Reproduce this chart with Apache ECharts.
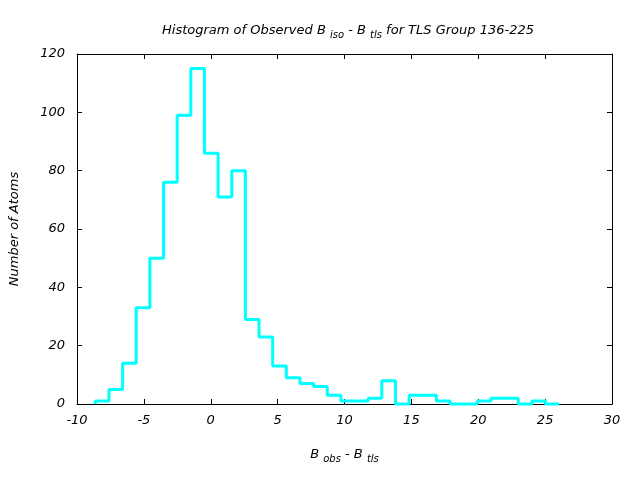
<!DOCTYPE html>
<html>
<head>
<meta charset="utf-8">
<script src="https://cdn.jsdelivr.net/npm/echarts@6/dist/echarts.min.js"></script>
<style>html,body{margin:0;padding:0;background:#fff}#c{width:640px;height:480px}</style>
</head>
<body>
<div id="c"></div>
<script>
// Histogram bin layout (value units) and counts
const binStart = -8.63;
const binWidth = 1.02;
const counts = [1,5,14,33,50,76,99,115,86,71,80,29,23,13,9,7,6,3,1,1,2,8,0,3,3,1,0,0,1,2,2,0,1,0];
const xTicks = [-10, 30, 5];   // min, max, interval
const yTicks = [0, 120, 20];

const pts = [[binStart, 0]];
counts.forEach((c, i) => pts.push([binStart + i * binWidth, c]));
pts.push([binStart + counts.length * binWidth, counts[counts.length - 1]]);

const font = 'DejaVu Sans';
const lab = {color: '#000', fontFamily: font, fontStyle: 'italic', fontSize: 13};
const subStyle = {fontSize: 10, fontFamily: font, fontStyle: 'italic', color: '#000', padding: [8, 0, 0, 0]};
const axLine = {show: true, onZero: false, lineStyle: {color: '#000', width: 1}};
const axTick = {show: true, inside: true, length: 5, lineStyle: {color: '#000'}};
const chart = echarts.init(document.getElementById('c'), null, {renderer: 'canvas'});
chart.setOption({
  animation: false,
  backgroundColor: '#fff',
  title: {
    text: 'Histogram of Observed B {s|iso} - B {s|tls} for TLS Group 136-225',
    left: 343, top: 17, textAlign: 'center',
    textStyle: {
      color: '#000', fontFamily: font, fontStyle: 'italic', fontWeight: 'normal', fontSize: 13,
      rich: {s: subStyle}
    }
  },
  grid: {left: 76, right: 28, top: 54, bottom: 76, show: false},
  xAxis: [{
    type: 'value', min: xTicks[0], max: xTicks[1], interval: xTicks[2],
    axisLine: axLine, axisTick: axTick, splitLine: {show: false},
    axisLabel: Object.assign({margin: 10}, lab),
    name: 'B {s|obs} - B {s|tls}', nameLocation: 'middle', nameGap: 42,
    nameTextStyle: Object.assign({rich: {s: subStyle}}, lab)
  }, {
    type: 'value', position: 'top', min: xTicks[0], max: xTicks[1], interval: xTicks[2],
    axisLine: axLine, axisTick: axTick, splitLine: {show: false}, axisLabel: {show: false}
  }],
  yAxis: [{
    type: 'value', min: yTicks[0], max: yTicks[1], interval: yTicks[2],
    axisLine: axLine, axisTick: axTick, splitLine: {show: false},
    axisLabel: Object.assign({margin: 12}, lab),
    name: 'Number of Atoms', nameLocation: 'middle', nameGap: 56, nameRotate: 90,
    nameTextStyle: lab
  }, {
    type: 'value', position: 'right', min: yTicks[0], max: yTicks[1], interval: yTicks[2],
    axisLine: axLine, axisTick: axTick, splitLine: {show: false}, axisLabel: {show: false}
  }],
  series: [{
    type: 'line', step: 'end', data: pts, showSymbol: false, clip: false,
    lineStyle: {color: '#00ffff', width: 3}, z: 5
  }]
});
</script>
</body>
</html>
